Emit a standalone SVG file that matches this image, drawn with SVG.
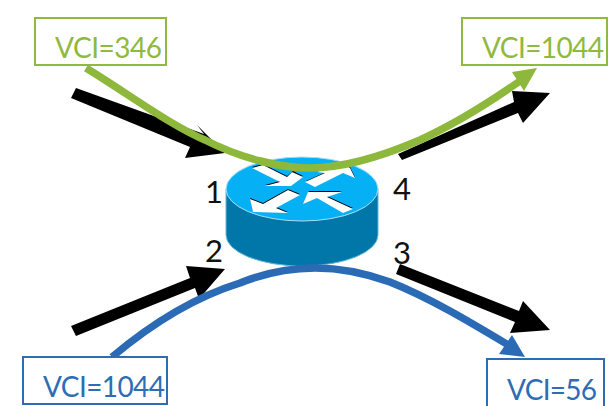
<svg xmlns="http://www.w3.org/2000/svg" width="615" height="406" viewBox="0 0 615 406">
<style>
text{font-family:"Lato","Liberation Sans",sans-serif;font-size:28px}
.g{fill:#8fb93f}.b{fill:#2e6db4}.k{fill:#111;font-size:31px}
.bx{fill:#fff;stroke-width:2}
.cg{fill:none;stroke:#8db83c;stroke-width:7.5}
.cb{fill:none;stroke:#2b6bb5;stroke-width:7.5}
.ar{fill:#fff}.sh{fill:#000}
</style>
<rect width="615" height="406" fill="#fff"/>
<g id="router">
<path d="M226,189V235A76,31 0 0 0 378,235V189Z" fill="#0077a8" stroke="#66b8d8" stroke-width="1"/>
<ellipse cx="302" cy="189" rx="76" ry="32" fill="#05b0f5" stroke="#a8e0f5" stroke-width="1"/>
<g class="sh">
<polygon points="252,167 263,164 287,176 293,171 303,176 291,185 265,185 280,181"/>
<polygon points="306,181 326,172 317,171 343,162 350,167 355,177 343,172 316,186"/>
<polygon points="250,198 253,211 288,212 276,207 300,194 288,189 263,203"/>
<polygon points="304,203 309,191 342,191 327,196 353,208 343,212 318,197"/>
</g>
<g class="ar">
<polygon points="252,168 263,165 287,177 292,172 303,177 291,186 265,186 280,182"/>
<polygon points="305,182 325,173 317,172 343,163 350,168 355,178 343,173 315,187"/>
<polygon points="250,199 253,212 288,213 276,208 300,195 288,190 263,204"/>
<polygon points="303,204 308,192 342,192 327,197 353,209 343,213 317,198"/>
</g>
</g>
<g id="connectors">
<polygon points="76,88 204,134 197,125 225,153 185,158 190,147 71,98" fill="#000"/>
<polygon points="398,154 514,102 512,91 550,93 523,123 518,113 402,160" fill="#000"/>
<polygon points="71,326 190,278 186,266 225,269 199,299 195,288 76,336" fill="#000"/>
<polygon points="400,264 519,311 523,301 550,330 510,333 515,322 396,274" fill="#000"/>
<path class="cg" d="M86,68C130,95 170,125 205,140C240,158 280,168 310,168C345,168 385,155 420,140C455,124 490,102 520,81"/>
<polygon points="537,68 512,72 524,91" fill="#8db83c"/>
<path class="cb" d="M112,357C150,325 195,297 240,283C265,273 290,268 315,268C340,268 365,273 390,282C430,298 470,322 510,346"/>
<polygon points="525,357 512,335 499,354" fill="#2b6bb5"/>
</g>
<g id="label-346"><rect class="bx" x="35" y="18" width="131" height="47" stroke="#8fb93f"/><text class="g" x="55" y="58" textLength="107">VCI=346</text></g>
<g id="label-1044-out"><rect class="bx" x="462" y="18" width="145" height="47" stroke="#8fb93f"/><text class="g" x="482" y="58" textLength="122">VCI=1044</text></g>
<g id="label-1044-in"><rect class="bx" x="23" y="357" width="144" height="47" stroke="#2e6db4"/><text class="b" x="43" y="397" textLength="122">VCI=1044</text></g>
<g id="label-56"><rect class="bx" x="487" y="359" width="117" height="50" stroke="#2e6db4"/><text class="b" x="507" y="400" textLength="90">VCI=56</text></g>
<g id="port-1"><text class="k" x="205" y="203">1</text></g>
<g id="port-2"><text class="k" x="205" y="262">2</text></g>
<g id="port-3"><text class="k" x="393" y="264">3</text></g>
<g id="port-4"><text class="k" x="393" y="200">4</text></g>
</svg>
